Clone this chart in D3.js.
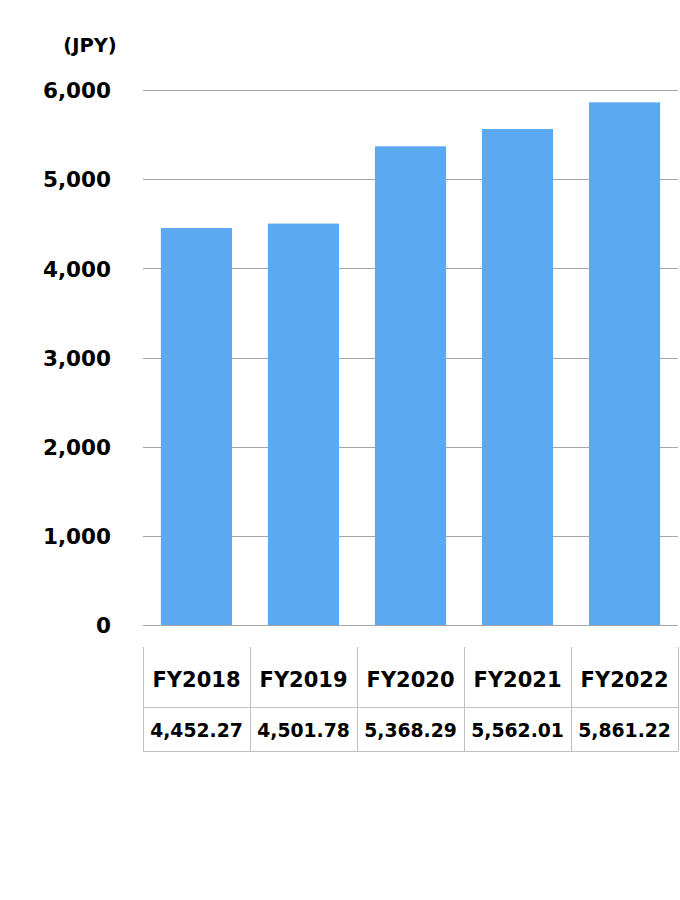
<!DOCTYPE html>
<html><head><meta charset="utf-8">
<script src="https://cdn.jsdelivr.net/npm/d3@7"></script>
<style>body{margin:0;background:#fff}svg{display:block}</style>
</head><body>
<script>
const categories = ["FY2018","FY2019","FY2020","FY2021","FY2022"];
const values = [4452.27, 4501.78, 5368.29, 5562.01, 5861.22];
const valueLabels = ["4,452.27","4,501.78","5,368.29","5,562.01","5,861.22"];
const yTicks = [0,1000,2000,3000,4000,5000,6000];
const unitLabel = "(JPY)";

(function(){
const W=680,H=900;
const svg=d3.select("body").append("svg").attr("width",W).attr("height",H);
const font="DejaVu Sans, Verdana, sans-serif";
const pL=143,pR=678,pT=90,pB=625;
const x=d3.scaleBand().domain(categories).range([pL,pR]).paddingInner(0.335).paddingOuter(0.167);
const y=d3.scaleLinear().domain([0,6000]).range([pB,pT]);

svg.append("g").selectAll("line").data(yTicks).join("line")
 .attr("x1",pL).attr("x2",pR).attr("y1",d=>Math.round(y(d))+0.5).attr("y2",d=>Math.round(y(d))+0.5)
 .attr("stroke","#a6a6a6").attr("stroke-width",1);

svg.append("g").selectAll("rect").data(values).join("rect")
 .attr("x",(d,i)=>x(categories[i])).attr("width",x.bandwidth())
 .attr("y",d=>y(d)).attr("height",d=>y(0)-y(d)).attr("fill","#5AA9F1");

const yAxis=d3.axisLeft(y).tickValues(yTicks).tickFormat(d3.format(",")).tickSize(0).tickPadding(0);
const ga=svg.append("g").attr("transform",`translate(111,0)`).call(yAxis);
ga.select(".domain").remove();
ga.selectAll("text").attr("font-family",font).attr("font-weight","bold").attr("font-size",21.5).attr("fill","#000").attr("dy","0.36em");

svg.append("text").attr("x",90).attr("y",52).attr("text-anchor","middle")
 .attr("font-family",font).attr("font-weight","bold").attr("font-size",19.5).text(unitLabel);

const step=x.step();
const colX=i=>pL+i*step;
const t1=647,t2=706.5,t3=751;
const tg=svg.append("g").attr("stroke","#c0c0c0").attr("stroke-width",1);
d3.range(categories.length+1).forEach(i=>{
  const xx=Math.round(colX(i))+0.5;
  tg.append("line").attr("x1",xx).attr("x2",xx).attr("y1",t1).attr("y2",t3);
});
[t2,t3].forEach(yy=>tg.append("line").attr("x1",pL).attr("x2",pR+0.5).attr("y1",Math.round(yy)+0.5).attr("y2",Math.round(yy)+0.5));

svg.append("g").selectAll("text").data(categories).join("text")
 .attr("x",(d,i)=>colX(i)+step/2).attr("y",679).attr("dy","0.36em").attr("text-anchor","middle")
 .attr("font-family",font).attr("font-weight","bold").attr("font-size",21).text(d=>d);
svg.append("g").selectAll("text").data(valueLabels).join("text")
 .attr("x",(d,i)=>colX(i)+step/2).attr("y",730).attr("dy","0.36em").attr("text-anchor","middle")
 .attr("font-family",font).attr("font-weight","bold").attr("font-size",18.8).text(d=>d);
})();
</script>
</body></html>
